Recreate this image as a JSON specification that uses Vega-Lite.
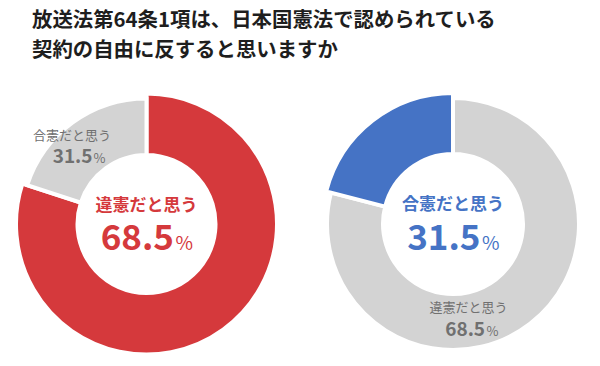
{
  "$schema": "https://vega.github.io/schema/vega-lite/v6.json",
  "background": "white",
  "padding": {"top": 10, "left": 0, "right": 0, "bottom": 0},
  "title": {
    "text": ["放送法第64条1項は、日本国憲法で認められている", "契約の自由に反すると思いますか"],
    "anchor": "start",
    "frame": "group",
    "font": "Noto Sans CJK JP",
    "fontSize": 20.4,
    "fontWeight": "bold",
    "lineHeight": 30,
    "color": "#1e1e1e",
    "dx": 32,
    "offset": 24
  },
  "datasets": {
    "d": [
      {"panel": "A", "answer": "違憲だと思う", "pct": 68.5, "share": 80, "order": 1, "main": 1},
      {"panel": "A", "answer": "合憲だと思う", "pct": 31.5, "share": 20, "order": 2, "main": 0},
      {"panel": "B", "answer": "違憲だと思う", "pct": 68.5, "share": 79, "order": 1, "main": 0},
      {"panel": "B", "answer": "合憲だと思う", "pct": 31.5, "share": 21, "order": 2, "main": 1}
    ]
  },
  "spacing": 13.5,
  "hconcat": [
    {
      "width": 293,
      "height": 270,
      "data": {"name": "d"},
      "transform": [
        {"filter": "datum.panel == 'A'"},
        {"stack": "share", "groupby": ["panel"], "sort": [{"field": "order"}], "as": ["s0", "s1"]},
        {"calculate": "(datum.s0 + datum.s1) / 2", "as": "smid"}
      ],
      "layer": [
        {
          "mark": {"type": "arc", "stroke": "white", "strokeWidth": 4},
          "encoding": {
            "theta": {"field": "s0", "type": "quantitative", "stack": null, "scale": {"domain": [0, 100]}},
            "theta2": {"field": "s1"},
            "radius": {"field": "main", "type": "quantitative", "stack": null, "scale": {"type": "linear", "domain": [0, 1], "range": [125.5, 130.5], "zero": false}},
            "radius2": {"value": 69},
            "color": {"condition": {"test": "datum.main == 1", "value": "#d5393c"}, "value": "#d3d3d3"}
          }
        },
        {
          "transform": [{"filter": "datum.main == 0"}],
          "mark": {"type": "text", "radius": 97, "font": "Noto Sans CJK JP", "fontSize": 13, "color": "#707070", "align": "center", "baseline": "middle", "dx": -17.5, "dy": -10},
          "encoding": {"theta": {"field": "smid", "type": "quantitative", "stack": null}, "text": {"field": "answer"}}
        },
        {
          "transform": [{"filter": "datum.main == 0"}],
          "mark": {"type": "text", "radius": 97, "font": "Noto Sans CJK JP", "fontSize": 19, "fontWeight": "bold", "color": "#707070", "align": "right", "baseline": "alphabetic", "dx": 3, "dy": 17},
          "encoding": {"theta": {"field": "smid", "type": "quantitative", "stack": null}, "text": {"field": "pct", "format": ".1f"}}
        },
        {
          "transform": [{"filter": "datum.main == 0"}],
          "mark": {"type": "text", "radius": 97, "font": "Noto Sans CJK JP", "fontSize": 13, "color": "#707070", "align": "left", "baseline": "alphabetic", "dx": 4, "dy": 17},
          "encoding": {"theta": {"field": "smid", "type": "quantitative", "stack": null}, "text": {"value": "%"}}
        },
        {
          "transform": [{"filter": "datum.main == 1"}],
          "mark": {"type": "text", "font": "Noto Sans CJK JP", "fontSize": 17, "fontWeight": "bold", "color": "#d5393c", "align": "center", "baseline": "middle", "dy": -18},
          "encoding": {"text": {"field": "answer"}}
        },
        {
          "transform": [{"filter": "datum.main == 1"}],
          "mark": {"type": "text", "font": "Noto Sans CJK JP", "fontSize": 35, "fontWeight": "bold", "color": "#d5393c", "align": "right", "baseline": "alphabetic", "dx": 27.5, "dy": 25.5},
          "encoding": {"text": {"field": "pct", "format": ".1f"}}
        },
        {
          "transform": [{"filter": "datum.main == 1"}],
          "mark": {"type": "text", "font": "Noto Sans CJK JP", "fontSize": 19, "color": "#d5393c", "align": "left", "baseline": "alphabetic", "dx": 29, "dy": 25.5},
          "encoding": {"text": {"value": "%"}}
        }
      ]
    },
    {
      "width": 293,
      "height": 270,
      "data": {"name": "d"},
      "transform": [
        {"filter": "datum.panel == 'B'"},
        {"stack": "share", "groupby": ["panel"], "sort": [{"field": "order"}], "as": ["s0", "s1"]},
        {"calculate": "(datum.s0 + datum.s1) / 2", "as": "smid"}
      ],
      "layer": [
        {
          "mark": {"type": "arc", "stroke": "white", "strokeWidth": 4},
          "encoding": {
            "theta": {"field": "s0", "type": "quantitative", "stack": null, "scale": {"domain": [0, 100]}},
            "theta2": {"field": "s1"},
            "radius": {"field": "main", "type": "quantitative", "stack": null, "scale": {"type": "linear", "domain": [0, 1], "range": [126, 131], "zero": false}},
            "radius2": {"value": 70},
            "color": {"condition": {"test": "datum.main == 1", "value": "#4573c5"}, "value": "#d3d3d3"}
          }
        },
        {
          "transform": [{"filter": "datum.main == 0"}],
          "mark": {"type": "text", "radius": 97, "font": "Noto Sans CJK JP", "fontSize": 13, "color": "#707070", "align": "center", "baseline": "middle", "dx": -44, "dy": 7},
          "encoding": {"theta": {"field": "smid", "type": "quantitative", "stack": null}, "text": {"field": "answer"}}
        },
        {
          "transform": [{"filter": "datum.main == 0"}],
          "mark": {"type": "text", "radius": 97, "font": "Noto Sans CJK JP", "fontSize": 19, "fontWeight": "bold", "color": "#707070", "align": "right", "baseline": "alphabetic", "dx": -27.4, "dy": 35.3},
          "encoding": {"theta": {"field": "smid", "type": "quantitative", "stack": null}, "text": {"field": "pct", "format": ".1f"}}
        },
        {
          "transform": [{"filter": "datum.main == 0"}],
          "mark": {"type": "text", "radius": 97, "font": "Noto Sans CJK JP", "fontSize": 13, "color": "#707070", "align": "left", "baseline": "alphabetic", "dx": -26, "dy": 35.3},
          "encoding": {"theta": {"field": "smid", "type": "quantitative", "stack": null}, "text": {"value": "%"}}
        },
        {
          "transform": [{"filter": "datum.main == 1"}],
          "mark": {"type": "text", "font": "Noto Sans CJK JP", "fontSize": 17, "fontWeight": "bold", "color": "#4573c5", "align": "center", "baseline": "middle", "dy": -19},
          "encoding": {"text": {"field": "answer"}}
        },
        {
          "transform": [{"filter": "datum.main == 1"}],
          "mark": {"type": "text", "font": "Noto Sans CJK JP", "fontSize": 35, "fontWeight": "bold", "color": "#4573c5", "align": "right", "baseline": "alphabetic", "dx": 27.5, "dy": 25.5},
          "encoding": {"text": {"field": "pct", "format": ".1f"}}
        },
        {
          "transform": [{"filter": "datum.main == 1"}],
          "mark": {"type": "text", "font": "Noto Sans CJK JP", "fontSize": 19, "color": "#4573c5", "align": "left", "baseline": "alphabetic", "dx": 29, "dy": 25.5},
          "encoding": {"text": {"value": "%"}}
        }
      ]
    }
  ],
  "config": {"view": {"stroke": null}}
}
